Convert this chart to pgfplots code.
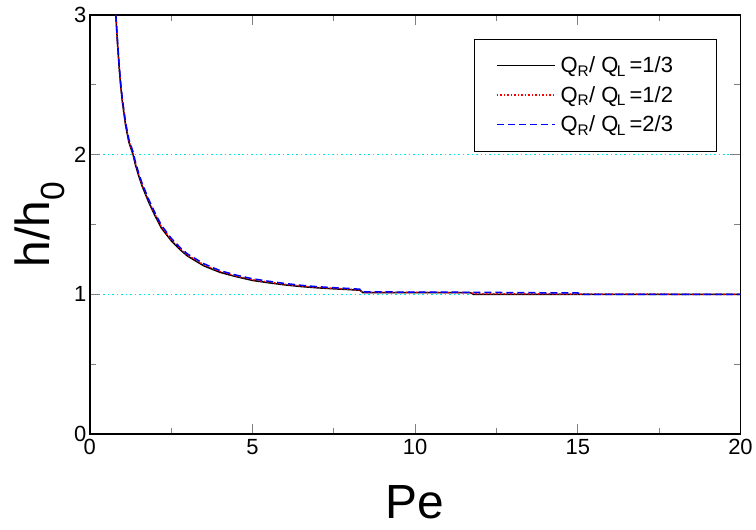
\documentclass[border=0pt]{standalone}
\usepackage{fontspec}
\setmainfont{Liberation Sans}
\usepackage{pgfplots}
\pgfplotsset{compat=1.18}
\definecolor{c1}{RGB}{0,0,0}
\definecolor{c2}{RGB}{255,0,0}
\definecolor{c3}{RGB}{0,0,255}
\definecolor{gridc}{RGB}{0,230,230}

\begin{document}
\begin{tikzpicture}
\begin{axis}[
    scale only axis,
    width=652pt, height=420pt,
    xmin=0, xmax=20, ymin=0, ymax=3,
    xtick={0,5,10,15,20}, ytick={0,1,2,3},
    minor x tick num=1, minor y tick num=1,
    tick align=inside,
    major tick length=10pt, minor tick length=6pt,
    tick style={line width=1.2pt},
    axis line style={line width=1.5pt},
    ymajorgrids,
    major grid style={draw=gridc, line width=1.5pt, dash pattern=on 1.5pt off 3pt},
    /pgf/number format/assume math mode=true,
    tick label style={font=\fontsize{22}{26}\selectfont},
    xticklabel style={yshift=-2pt},
    xlabel={Pe}, ylabel={h/h\textsubscript{0}},
    every axis x label/.style={at={(rel axis cs:0.5,0)}, anchor=base, yshift=-85pt,
        font=\fontsize{48}{56}\selectfont},
    every axis y label/.style={at={(rel axis cs:0,0.5)}, rotate=90, anchor=base, yshift=40pt,
        font=\fontsize{48}{56}\selectfont},
    legend style={at={(0.963,0.943)}, anchor=north east,
        font=\fontsize{22}{26}\selectfont,
        inner xsep=22pt, inner ysep=16pt, row sep=8pt},
    legend cell align=left,
    legend image code/.code={\begin{scope}[#1]\draw (0pt,0pt) -- (58pt,0pt);\end{scope}},
]
\addplot[color=c1, draw=c1, line width=1.5pt] coordinates {
(0.80,3.0) (0.85,2.80) (0.90,2.63) (0.95,2.49) (1.0,2.38) (1.1,2.21) (1.2,2.09)
(1.33,2.0) (1.4,1.93) (1.5,1.85) (1.6,1.78) (1.8,1.665) (2.0,1.565) (2.2,1.475)
(2.5,1.385) (2.8,1.315) (3.0,1.275) (3.5,1.205) (4.0,1.158) (4.5,1.127)
(5.0,1.10) (5.5,1.083) (6.0,1.068) (6.5,1.056) (7.0,1.047) (7.5,1.040)
(8.0,1.034) (8.3,1.030) (8.4,1.012) (11.7,1.012) (11.8,1.0) (20,1.0)};
\addlegendentry{\makebox[135pt][l]{\hspace{3pt}Q\textsubscript{R}/ Q\kern-1.5pt\textsubscript{L}\,=1/3}}
\addplot[color=c2, draw=c2, line width=1.5pt, dash pattern=on 1.5pt off 2pt] coordinates {
(0.80,3.0) (0.85,2.81) (0.90,2.64) (0.95,2.50) (1.0,2.39) (1.1,2.22) (1.2,2.10)
(1.33,2.01) (1.4,1.94) (1.5,1.86) (1.6,1.79) (1.8,1.675) (2.0,1.575) (2.2,1.485)
(2.5,1.393) (2.8,1.322) (3.0,1.282) (3.5,1.212) (4.0,1.164) (4.5,1.132)
(5.0,1.105) (5.5,1.088) (6.0,1.072) (6.5,1.060) (7.0,1.050) (7.5,1.043)
(8.0,1.037) (8.3,1.032) (8.4,1.015) (11.7,1.013) (11.8,1.004) (20,1.0)};
\addlegendentry{\makebox[135pt][l]{\hspace{3pt}Q\textsubscript{R}/ Q\kern-1.5pt\textsubscript{L}\,=1/2}}
\addplot[color=c3, draw=c3, line width=1.5pt, dash pattern=on 7pt off 4pt] coordinates {
(0.80,3.0) (0.85,2.82) (0.90,2.65) (0.95,2.51) (1.0,2.40) (1.1,2.23) (1.2,2.11)
(1.33,2.02) (1.4,1.95) (1.5,1.87) (1.6,1.80) (1.8,1.685) (2.0,1.585) (2.2,1.495)
(2.5,1.402) (2.8,1.330) (3.0,1.290) (3.5,1.220) (4.0,1.170) (4.5,1.138)
(5.0,1.112) (5.5,1.094) (6.0,1.078) (6.5,1.065) (7.0,1.055) (7.5,1.048)
(8.0,1.042) (8.3,1.037) (8.4,1.018) (11.7,1.015) (15.0,1.010) (15.2,1.0) (20,1.0)};
\addlegendentry{\makebox[135pt][l]{\hspace{3pt}Q\textsubscript{R}/ Q\kern-1.5pt\textsubscript{L}\,=2/3}}
\end{axis}
\useasboundingbox (-90pt,-96pt) rectangle (666pt,435pt);
\end{tikzpicture}
\end{document}
